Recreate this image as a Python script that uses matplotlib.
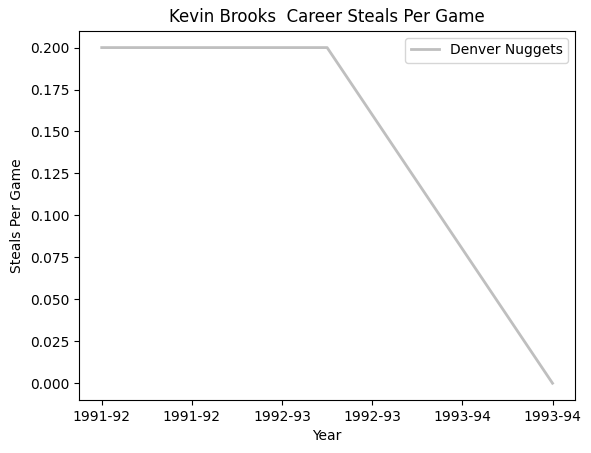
import matplotlib
matplotlib.use("Agg")
import matplotlib.pyplot as plt

# season index vs steals per game
seasons = [0, 1, 2]
steals = [0.2, 0.2, 0.0]
tick_pos = [0.0, 0.4, 0.8, 1.2, 1.6, 2.0]
tick_labels = ["1991-92", "1991-92", "1992-93", "1992-93", "1993-94", "1993-94"]

fig = plt.figure(figsize=(5.91, 4.53), dpi=100)
ax = fig.add_axes([0.134, 0.117, 0.839, 0.815])

ax.plot(seasons, steals, color="#bfbfbf", linewidth=2, label="Denver Nuggets")
ax.set_xticks(tick_pos)
ax.set_xticklabels(tick_labels)
ax.set_xlabel("Year")
ax.set_ylabel("Steals Per Game")
ax.set_title("Kevin Brooks  Career Steals Per Game")
ax.legend(loc="upper right")

fig.savefig("out.png", dpi=100)
